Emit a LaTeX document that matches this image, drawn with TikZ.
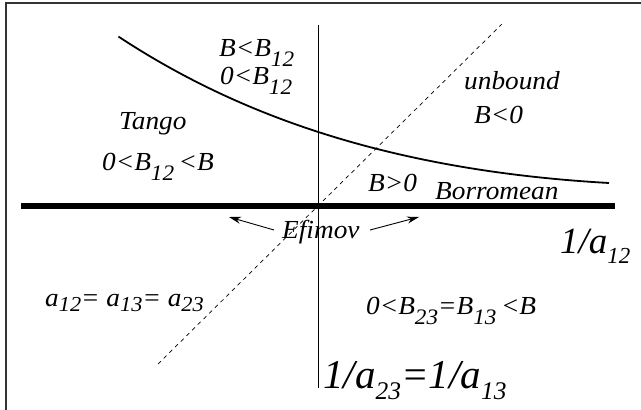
\documentclass[tikz,border=0pt]{standalone}
\usepackage{fontspec}
\usepackage{graphicx}
\setmainfont{Liberation Serif}
\usetikzlibrary{arrows.meta}
\newcommand{\dn}[1]{\raisebox{-0.42em}{\scalebox{0.85}{#1}}}
\newcommand{\dnS}[1]{\raisebox{-0.28em}{\scalebox{0.62}{#1}}}
\newcommand{\dnM}[1]{\raisebox{-0.2em}{\scalebox{0.82}{#1}}}
\newcommand{\wide}[1]{\scalebox{1.05}[1]{#1}}
\begin{document}
\begin{tikzpicture}[x=1pt,y=-1pt,
  lbl/.style={anchor=base west,inner sep=0pt,font=\fontsize{26}{28}\selectfont\itshape},
  big/.style={anchor=base west,inner sep=0pt,font=\fontsize{37}{38}\selectfont\itshape},
  bigger/.style={anchor=base west,inner sep=0pt,font=\fontsize{41}{42}\selectfont\itshape},
  axisline/.style={line width=0.9pt},
  thickaxis/.style={line width=6pt},
  boundary/.style={line width=1.8pt},
  diag/.style={line width=0.7pt,dash pattern=on 4pt off 4pt},
  arr/.style={line width=0.9pt,-{Stealth[length=12pt,width=7pt]}},
  frame/.style={line width=1.5pt,draw=black!80}]
\useasboundingbox (0,0) rectangle (641,410);
\fill[white] (0,0) rectangle (641,410);
% frame
\coordinate (f1) at (6,410);
\coordinate (f2) at (6,3);
\coordinate (f3) at (641,3);
\draw[frame] (f1) -- (f2) -- (f3);
% axes
\coordinate (hL) at (21,206);
\coordinate (hR) at (615,206);
\draw[thickaxis] (hL) -- (hR);
\coordinate (vT) at (318,25);
\coordinate (vB) at (318,388);
\draw[axisline] (vT) -- (vB);
% dashed diagonal
\coordinate (dB) at (158,364);
\coordinate (dT) at (502,24);
\draw[diag] (dB) -- (dT);
% boundary curve
\coordinate (cS) at (118.5,36.6);
\coordinate (cE) at (609,183);
\draw[boundary] (cS) .. controls (230,110) and (380,170) .. (cE);
% texts
\node[lbl] (t1) at (219,56) {\wide{B<B\dn{12}}};
\node[lbl] (t2) at (220,84) {\wide{0<B\dn{12}}};
\node[lbl] (tango) at (119,129) {\wide{Tango}};
\node[lbl] (t3) at (102,170) {\wide{0<B\dn{12}\,<B}};
\node[lbl] (unb) at (464,89) {\wide{unbound}};
\node[lbl] (t4) at (474,123) {\wide{B<0}};
\node[lbl] (t5) at (368,191) {\wide{B>0}};
\node[lbl] (bor) at (435,199) {\wide{Borromean}};
\node[lbl] (efi) at (282,238) {\wide{Efimov}};
\node[lbl] (t6) at (45,306) {\wide{a\dnM{12}= a\dnM{13}= a\dnM{23}}};
\node[lbl] (t7) at (366,314) {\wide{0<B\dn{23}=B\dn{13}\,<B}};
\node[big] (ax1) at (560,253) {1/a\dnS{12}};
\node[bigger] (ax2) at (323,388) {1/a\dnS{23}=1/a\dnS{13}};
% arrows
\coordinate (aLt) at (274,230);
\coordinate (aLh) at (229,217);
\coordinate (aRt) at (370,230);
\coordinate (aRh) at (419,217);
\draw[arr] (aLt) -- (aLh);
\draw[arr] (aRt) -- (aRh);
\end{tikzpicture}
\end{document}
